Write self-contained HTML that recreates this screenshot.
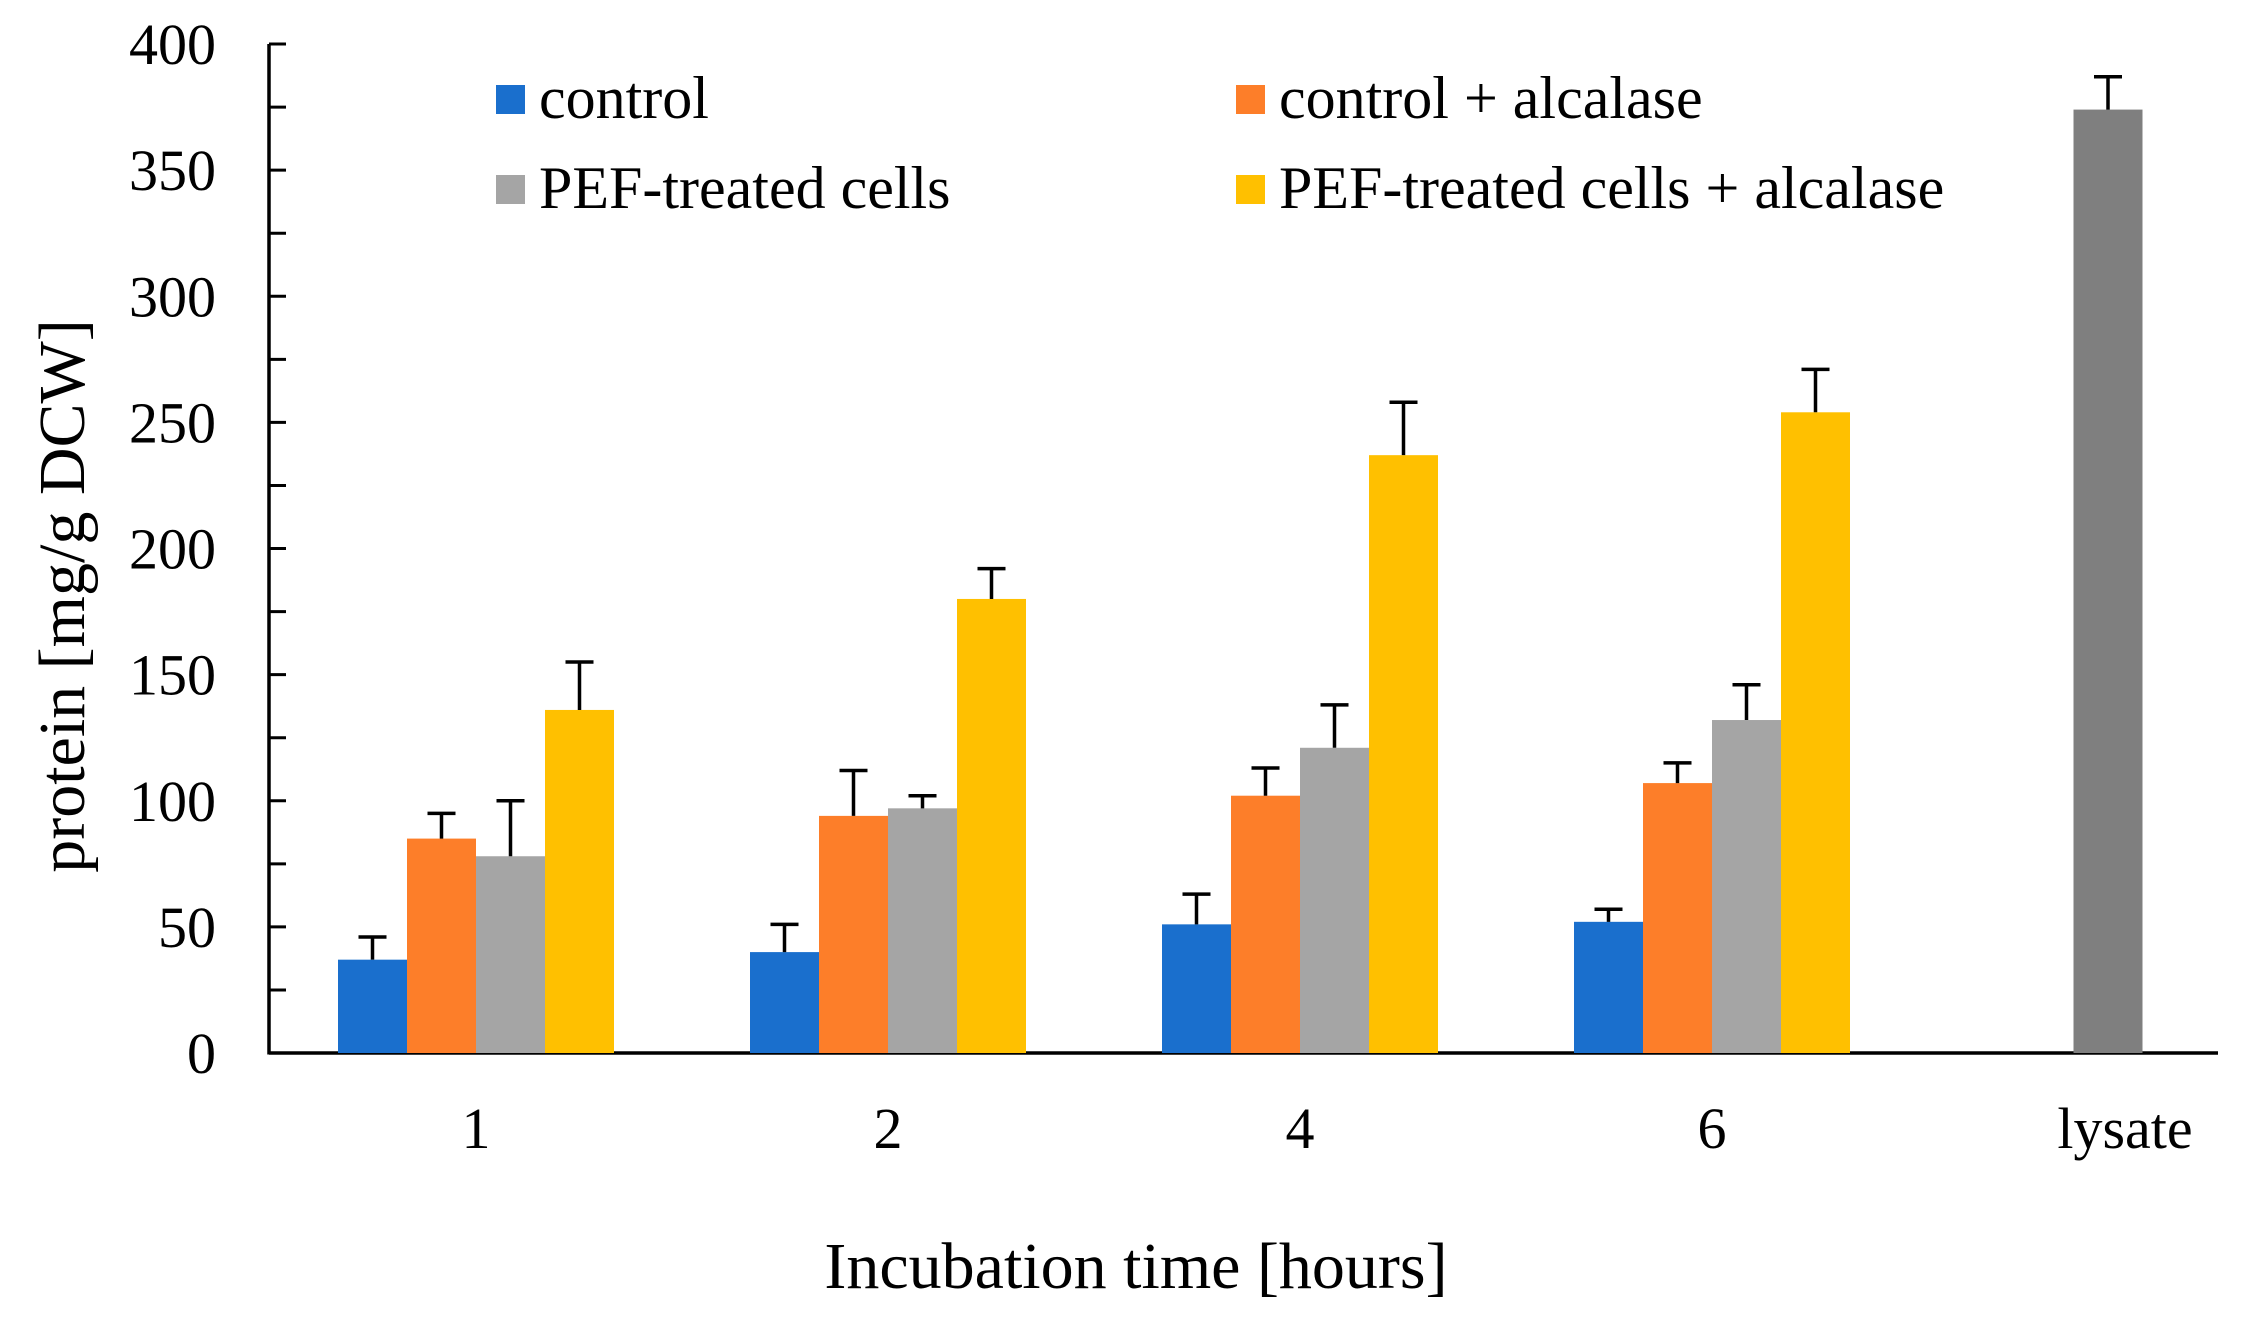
<!DOCTYPE html>
<html><head><meta charset="utf-8"><style>
body{margin:0;background:#fff}
svg{display:block;font-family:"Liberation Serif",serif}
</style></head><body>
<svg id="chart" width="2241" height="1321" viewBox="0 0 2241 1321" xmlns="http://www.w3.org/2000/svg">
<g id="axes"></g>
<g id="bars"></g>
<g id="legend"></g>
<text x="1136" y="1288" font-size="66" text-anchor="middle">Incubation time [hours]</text>
<text transform="translate(84,596) rotate(-90)" font-size="66" text-anchor="middle">protein [mg/g DCW]</text>
</svg>
<script>
const categories = ["1","2","4","6","lysate"];
const seriesNames = ["control","control + alcalase","PEF-treated cells","PEF-treated cells + alcalase"];
const seriesColors = ["#1a6fcd","#fd7e29","#a5a5a5","#ffc000"];
const controlVals = [37,40,51,52];
const controlErr = [46,51,63,57];
const alcVals = [85,94,102,107];
const alcErr = [95,112,113,115];
const pefVals = [78,97,121,132];
const pefErr = [100,102,138,146];
const pefAlcVals = [136,180,237,254];
const pefAlcErr = [155,192,258,271];
const lysateVal = [374];
const lysateErr = [387];
const yTicks = [0,50,100,150,200,250,300,350,400];

const NS="http://www.w3.org/2000/svg";
const X0=269,Y0=1053,Ytop=44,XR=2218;
const y=v=>Y0-(v/400)*(Y0-Ytop);
const xc=i=>476+i*412-(i===4?16:0);
const BW=69;
function mk(tag,attrs,parent){const e=document.createElementNS(NS,tag);for(const k in attrs)e.setAttribute(k,attrs[k]);parent.appendChild(e);return e;}
const axes=document.getElementById('axes'),bars=document.getElementById('bars'),legend=document.getElementById('legend');

for(let v=0;v<=400;v+=25){
  const t=mk('line',{x1:X0,x2:X0+17,y1:y(v),y2:y(v),stroke:'#000','stroke-width':3},axes);
  
  
}
yTicks.forEach(v=>{
  const t=mk('text',{x:216,y:y(v)+20,'font-size':58,'text-anchor':'end'},axes);
  t.textContent=v;
  
  
});
const ya=mk('line',{x1:X0,x2:X0,y1:Ytop,y2:Y0+1.5,stroke:'#000','stroke-width':3.5},axes);


const xa=mk('line',{x1:X0,x2:XR,y1:Y0,y2:Y0,stroke:'#000','stroke-width':3.5},axes);


categories.forEach((c,i)=>{
  const t=mk('text',{x:xc(i)+(i===4?17:0),y:1148,'font-size':58,'text-anchor':'middle'},axes);
  t.textContent=c;
  
  
});

function drawBar(cx,v,e,color,name){
  const r=mk('rect',{x:cx-BW/2,y:y(v),width:BW,height:Y0-y(v),fill:color},bars);
  
  
  const l=mk('path',{d:`M${cx},${y(v)}V${y(e)}M${cx-14},${y(e)}H${cx+14}`,stroke:'#000','stroke-width':3.5,fill:'none'},bars);
  
  
}
const vals=[controlVals,alcVals,pefVals,pefAlcVals];
const errs=[controlErr,alcErr,pefErr,pefAlcErr];
for(let i=0;i<4;i++){
  for(let s=0;s<4;s++){
    const cx=xc(i)-1.5*BW+s*BW;
    drawBar(cx,vals[s][i],errs[s][i],seriesColors[s],'bar-'+categories[i]+'h-series-'+(s+1));
  }
}
drawBar(xc(4),lysateVal[0],lysateErr[0],'#7f7f7f','bar-lysate');

const legPos=[[496,99],[1236,99],[496,189],[1236,189]];
seriesNames.forEach((n,s)=>{
  const [lx,ly]=legPos[s];
  const r=mk('rect',{x:lx,y:ly-14,width:29,height:29,fill:seriesColors[s]},legend);
  
  
  const t=mk('text',{x:lx+43,y:ly+19,'font-size':60},legend);
  t.textContent=n;
  
  
});
</script>
</body></html>
